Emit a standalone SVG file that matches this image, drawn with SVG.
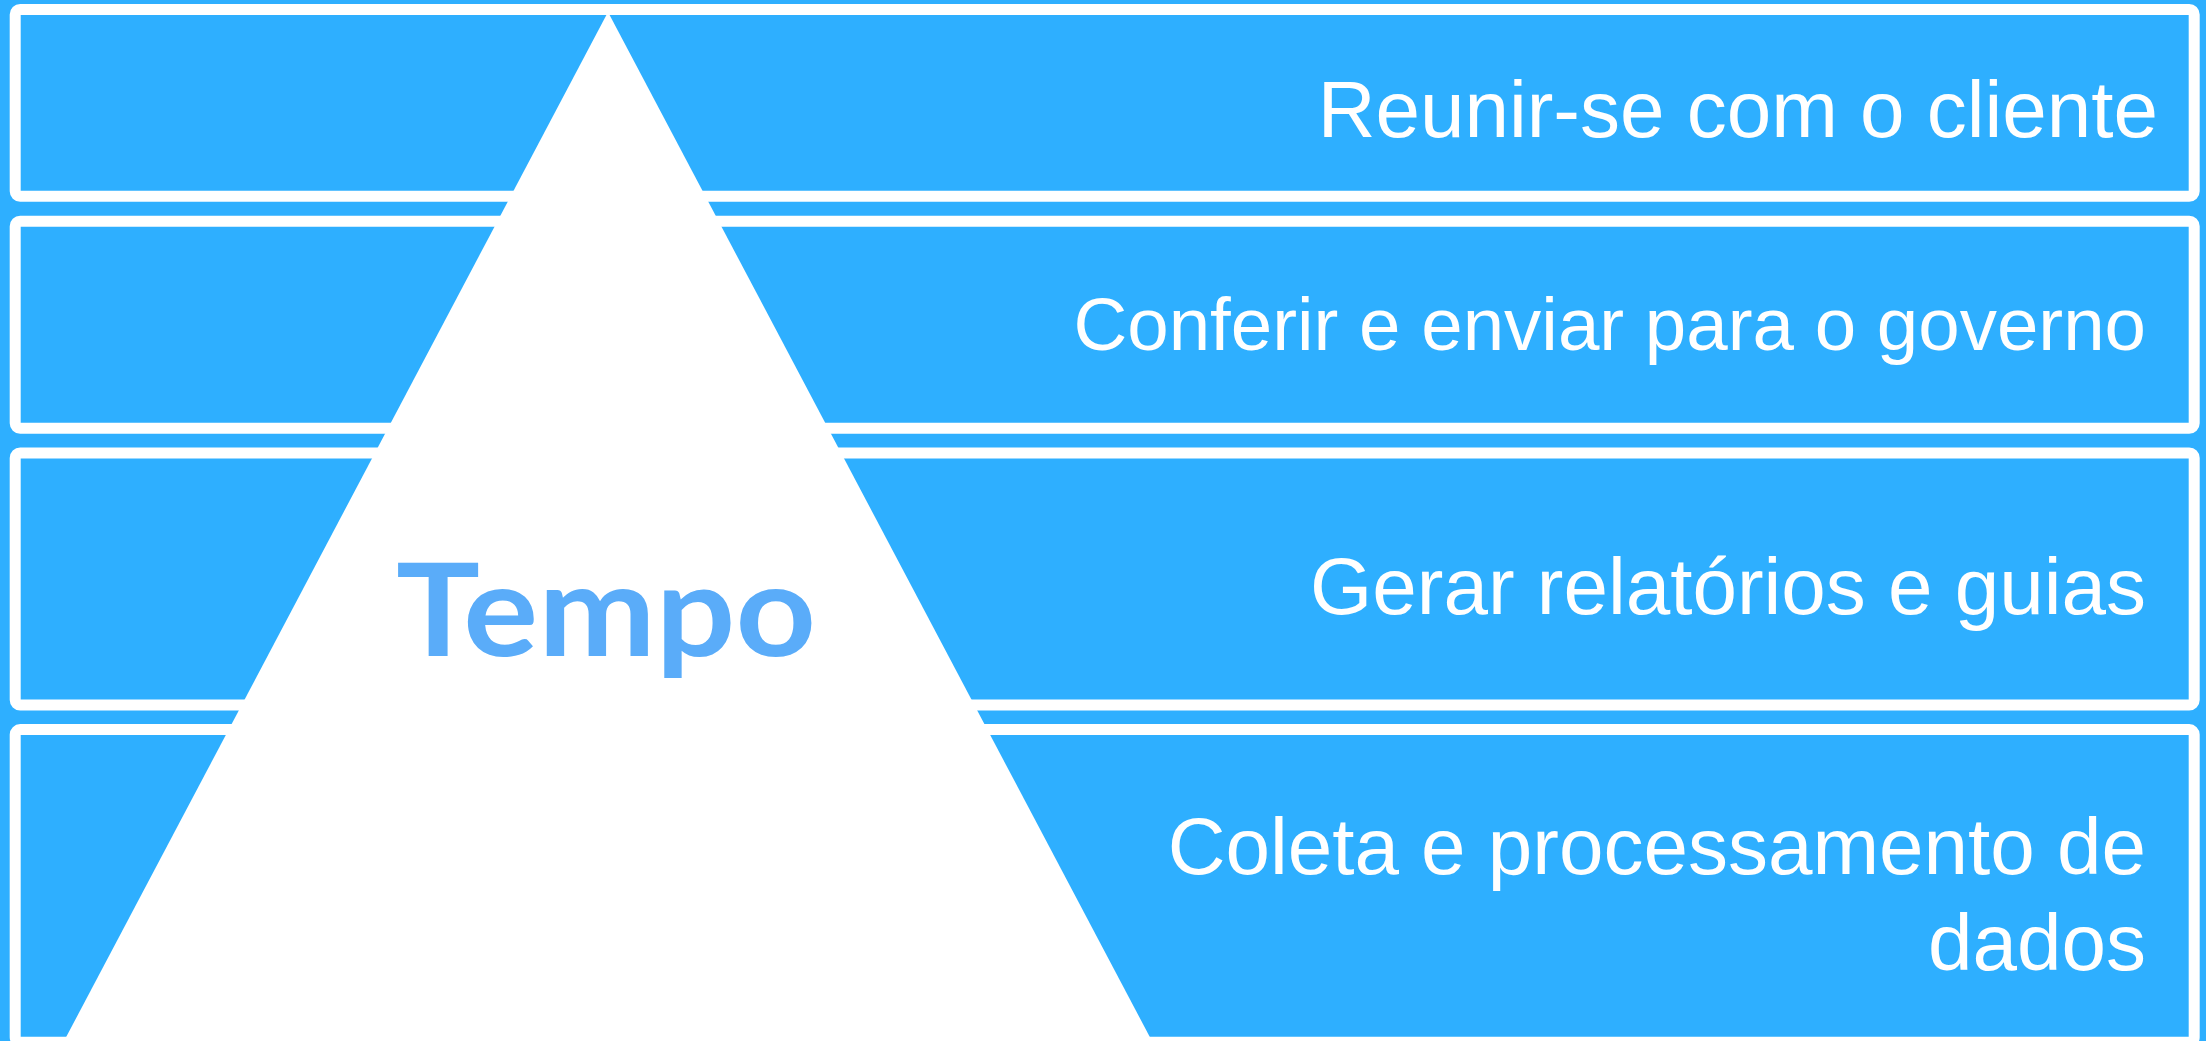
<svg xmlns="http://www.w3.org/2000/svg" width="2206" height="1041" viewBox="0 0 2206 1041">
  <style>
    .band { fill: #2EAFFF; stroke: #FFFFFF; stroke-width: 11; }
    .lbl { font-family: "Liberation Sans", Arial, sans-serif; font-size: 80px; fill: #FFFFFF; text-anchor: end; }
    .title { font-family: Lato, "Open Sans", sans-serif; font-weight: 700; font-size: 128px; fill: #5AACF9; }
  </style>
  <rect x="0" y="0" width="2206" height="1041" fill="#2EAFFF"/>
  <g id="band1"><rect class="band" x="15.2" y="9.5" width="2179" height="186.8" rx="5"/></g>
  <g id="band2"><rect class="band" x="15.2" y="221.2" width="2179" height="207.1" rx="5"/></g>
  <g id="band3"><rect class="band" x="15.2" y="453" width="2179" height="252" rx="5"/></g>
  <g id="band4"><rect class="band" x="15.2" y="729.6" width="2179" height="312.6" rx="5"/></g>
  <g id="pyramid">
    <polygon points="608,12 1162,1060 54,1060" fill="#FFFFFF"/>
    <text class="title" x="396" y="656" textLength="420" lengthAdjust="spacingAndGlyphs">Tempo</text>
  </g>
  <g id="labels">
    <g id="label1"><text class="lbl" x="2158" y="137">Reunir-se com o cliente</text></g>
    <g id="label2"><text class="lbl" x="2146" y="350" style="font-size:74.5px">Conferir e enviar para o governo</text></g>
    <g id="label3"><text class="lbl" x="2146" y="614">Gerar relatórios e guias</text></g>
    <g id="label4"><text class="lbl" x="2146" y="874">Coleta e processamento de</text><text class="lbl" x="2146" y="970">dados</text></g>
  </g>
  <g id="connectors"></g>
</svg>
